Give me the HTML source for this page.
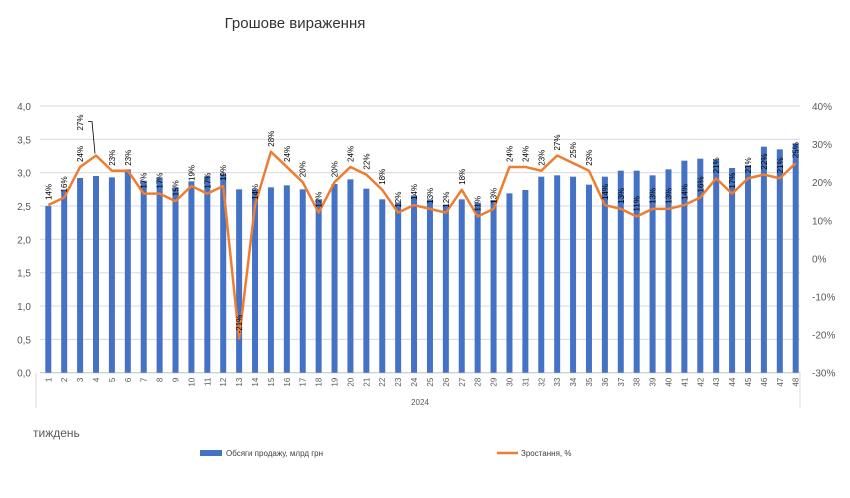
<!DOCTYPE html>
<html><head><meta charset="utf-8"><style>
body{margin:0;background:#fff;}
svg{display:block;font-family:"Liberation Sans","DejaVu Sans",sans-serif;}
</style></head><body>
<svg id="chart" width="850" height="498" viewBox="0 0 850 498" xmlns="http://www.w3.org/2000/svg">
<rect width="850" height="498" fill="#fff"/>
<text x="295" y="28" font-size="15" fill="#333" text-anchor="middle">Грошове вираження</text>
<g id="grid"></g><g id="bars"></g><g id="line"></g><g id="labels"></g><g id="axes"></g>
<text x="33" y="437" font-size="12" fill="#595959">тиждень</text>
<g>
<rect x="200" y="450" width="22" height="6" fill="#4472c4"/>
<text x="226" y="456" font-size="8" fill="#404040">Обсяги продажу, млрд грн</text>
<line x1="497" y1="453" x2="518" y2="453" stroke="#ed7d31" stroke-width="2.5"/>
<text x="521" y="456" font-size="8" fill="#404040">Зростання, %</text>
</g>
</svg>
<script>
const weeks=[1,2,3,4,5,6,7,8,9,10,11,12,13,14,15,16,17,18,19,20,21,22,23,24,25,26,27,28,29,30,31,32,33,34,35,36,37,38,39,40,41,42,43,44,45,46,47,48];
const sales=[2.50,2.73,2.92,2.95,2.93,3.05,2.88,2.92,2.78,2.87,2.95,2.98,2.75,2.75,2.78,2.81,2.75,2.60,2.83,2.90,2.76,2.60,2.55,2.66,2.60,2.52,2.60,2.55,2.59,2.69,2.74,2.94,2.96,2.94,2.82,2.94,3.03,3.03,2.96,3.05,3.18,3.21,3.20,3.07,3.11,3.39,3.35,3.44];
const growth=[14,16,24,27,23,23,17,17,15,19,17,19,-21,14,28,24,20,12,20,24,22,18,12,14,13,12,18,11,13,24,24,23,27,25,23,14,13,11,13,13,14,16,21,17,21,22,21,25];
const leftTicks=["0,0","0,5","1,0","1,5","2,0","2,5","3,0","3,5","4,0"];
const rightTicks=["-30%","-20%","-10%","0%","10%","20%","30%","40%"];
const NS="http://www.w3.org/2000/svg";
const X0=40,X1=800,Y0=372.7,Y1=106;
const xs=i=>48.3+i*(795.7-48.3)/47;
const yL=v=>Y0-(v/4)*(Y0-Y1);
const yR=p=>Y0-((p+30)/70)*(Y0-Y1);
function mk(t,a,parent,txt){const e=document.createElementNS(NS,t);for(const k in a)e.setAttribute(k,a[k]);if(txt!==undefined)e.textContent=txt;document.getElementById(parent).appendChild(e);return e;}
leftTicks.forEach((t,i)=>{const y=yL(i*0.5);
const g=mk('line',{x1:X0,x2:X1,y1:y,y2:y,stroke:i==0?'#bfbfbf':'#d9d9d9','stroke-width':1},'grid');


const l=mk('text',{x:31,y:y+4,'font-size':10,fill:'#595959','text-anchor':'end'},'axes',t);

});
rightTicks.forEach((t,i)=>{const y=yR(-30+i*10);
const l=mk('text',{x:812,y:y+4,'font-size':10,fill:'#595959'},'axes',t);

});
[36,800].forEach(x=>{const a=mk('line',{x1:x,x2:x,y1:Y0,y2:408,stroke:'#d9d9d9'},'axes');

});
const yr=mk('text',{x:420,y:405,'font-size':8,fill:'#595959','text-anchor':'middle'},'axes','2024');


let pts=[];
weeks.forEach((w,i)=>{const x=xs(i);
const b=mk('rect',{x:x-3,y:yL(sales[i]),width:6,height:Y0-yL(sales[i]),fill:'#4472c4'},'bars');


const t=mk('text',{transform:`translate(${x+3},${Y0+5}) rotate(-90)`,'font-size':8,fill:'#595959','text-anchor':'end'},'axes',String(w));


const py=yR(growth[i]);pts.push(x+','+py);
let lx=x+3,ly=py-5;
if(i===3){lx=x-13;ly=py-25;const ll=mk('path',{d:`M${x-8},${py-34} L${x-4},${py-34} L${x-1},${py-2}`,fill:'none',stroke:'#000','stroke-width':0.8},'labels');

}
const lb=mk('text',{transform:`translate(${lx},${ly}) rotate(-90)`,'font-size':8,fill:'#000'},'labels',growth[i]+'%');

});
const pl=mk('polyline',{points:pts.join(' '),fill:'none',stroke:'#ed7d31','stroke-width':2.5,'stroke-linejoin':'round'},'line');


</script>
</body></html>
